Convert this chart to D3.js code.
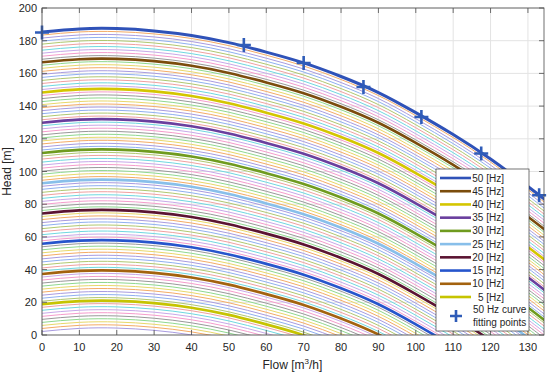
<!DOCTYPE html>
<html lang="en">
	<head>
		<meta charset="utf-8">
		<title>Pump head curves</title>
		<script type="text/javascript" src="https://cdn.jsdelivr.net/npm/d3@7"></script>
		<style>
			body { margin: 0; background: #fff; }
			text { font-family: "Liberation Sans", Arial, sans-serif; fill: #262626; }
		</style>
	</head>
	<body>
		<script type="text/javascript">

			//
			// Data
			//

			// 50 Hz curve, sampled along the flow axis
			var flowPts = [0, 10, 20, 30, 40, 50, 60, 70, 80, 90, 100, 110, 120, 130, 135];
			var head50 = [185.3, 187.2, 187.4, 186.0, 183.2, 178.8, 173.0, 166.4, 158.1, 148.3, 136.0, 122.6, 107.6, 90.8, 82];

			// fitting points on the 50 Hz curve
			var fitFlow = [0, 54, 70, 86, 101.5, 117.5, 133];
			var fitHead = [185, 177.4, 166.4, 151.7, 133.3, 111, 85.5];

			// every curve is the 50 Hz one shifted down by this much per Hz
			var headPerHz = 3.7;
			var freqs = d3.range(0.5, 50.01, 0.5);

			// highlighted curves (legend)
			var hiFreqs = [50, 45, 40, 35, 30, 25, 20, 15, 10, 5];
			var hiLabels = ["50 [Hz]", "45 [Hz]", "40 [Hz]", "35 [Hz]", "30 [Hz]", "25 [Hz]", "20 [Hz]", "15 [Hz]", "10 [Hz]", "5 [Hz]"];
			var hiColors = ["#2f52b8", "#7b4c0c", "#d4c600", "#6a3f9e", "#6f9b1f", "#88bfea", "#5b1432", "#2655cc", "#a3620f", "#c6c400"];

			// thin curve colours, cycled
			var thinColors = ["#a99be0", "#f4ab66", "#e8d86a", "#8fd88f", "#999999", "#f59ccc", "#c8a8e8", "#6fd8e0", "#f0a0a0", "#b0c870", "#8fb0f0"];

			var xTicks = d3.range(0, 131, 10);
			var yTicks = d3.range(0, 201, 20);

			//
			// Layout
			//
			var W = 550, H = 377;
			var mLeft = 42, mRight = 544, mTop = 8, mBottom = 335;

			var svg = d3.select("body")
				.append("svg")
				.attr("width", W)
				.attr("height", H);

			var x = d3.scaleLinear().domain([0, 134.3]).range([mLeft, mRight]);
			var y = d3.scaleLinear().domain([0, 200]).range([mBottom, mTop]);

			svg.append("defs").append("clipPath")
				.attr("id", "plot")
				.append("rect")
				.attr("x", mLeft).attr("y", mTop)
				.attr("width", mRight - mLeft).attr("height", mBottom - mTop);

			// grid
			var grid = svg.append("g");
			grid.selectAll("line.gx")
				.data(xTicks)
				.enter()
				.append("line")
				.attr("x1", function(d) { return x(d); })
				.attr("x2", function(d) { return x(d); })
				.attr("y1", mTop).attr("y2", mBottom)
				.attr("stroke", "#e3e3e3");
			grid.selectAll("line.gy")
				.data(yTicks)
				.enter()
				.append("line")
				.attr("y1", function(d) { return y(d); })
				.attr("y2", function(d) { return y(d); })
				.attr("x1", mLeft).attr("x2", mRight)
				.attr("stroke", "#e3e3e3");

			var line = d3.line()
				.x(function(d) { return x(d[0]); })
				.y(function(d) { return y(d[1]); })
				.curve(d3.curveNatural);

			var curveFor = function(f) {
				return flowPts.map(function(q, i) {
					return [q, head50[i] - (50 - f) * headPerHz];
				});
			};

			var plot = svg.append("g").attr("clip-path", "url(#plot)");

			var thin = freqs.filter(function(f) { return f % 5 !== 0; });
			plot.selectAll("path.thin")
				.data(thin)
				.enter()
				.append("path")
				.attr("d", function(f) { return line(curveFor(f)); })
				.attr("fill", "none")
				.attr("stroke", function(f, i) { return thinColors[i % thinColors.length]; })
				.attr("stroke-width", 1);

			plot.selectAll("path.hi")
				.data(hiFreqs.slice().reverse())
				.enter()
				.append("path")
				.attr("d", function(f) { return line(curveFor(f)); })
				.attr("fill", "none")
				.attr("stroke", function(f) { return hiColors[hiFreqs.indexOf(f)]; })
				.attr("stroke-width", function(f) { return f === 50 ? 3 : 2.6; });

			// fitting point markers
			svg.selectAll("path.fit")
				.data(fitFlow)
				.enter()
				.append("path")
				.attr("d", function(q, i) {
					var cx = x(q), cy = y(fitHead[i]);
					return "M" + (cx - 7) + "," + cy + "H" + (cx + 7) + "M" + cx + "," + (cy - 7) + "V" + (cy + 7);
				})
				.attr("stroke", "#2f5cb8")
				.attr("stroke-width", 2.6);

			// axes box with inward ticks on all sides
			var axes = svg.append("g").attr("stroke", "#4d4d4d").attr("stroke-width", 0.8);
			axes.append("rect")
				.attr("x", mLeft).attr("y", mTop)
				.attr("width", mRight - mLeft).attr("height", mBottom - mTop)
				.attr("fill", "none");
			xTicks.forEach(function(d) {
				axes.append("line").attr("x1", x(d)).attr("x2", x(d)).attr("y1", mBottom).attr("y2", mBottom - 5);
				axes.append("line").attr("x1", x(d)).attr("x2", x(d)).attr("y1", mTop).attr("y2", mTop + 5);
			});
			yTicks.forEach(function(d) {
				axes.append("line").attr("y1", y(d)).attr("y2", y(d)).attr("x1", mLeft).attr("x2", mLeft + 5);
				axes.append("line").attr("y1", y(d)).attr("y2", y(d)).attr("x1", mRight).attr("x2", mRight - 5);
			});

			svg.selectAll("text.xt")
				.data(xTicks)
				.enter()
				.append("text")
				.attr("x", function(d) { return x(d); })
				.attr("y", mBottom + 16)
				.attr("text-anchor", "middle")
				.attr("font-size", 11)
				.text(function(d) { return d; });

			svg.selectAll("text.yt")
				.data(yTicks)
				.enter()
				.append("text")
				.attr("x", mLeft - 5)
				.attr("y", function(d) { return y(d) + 4; })
				.attr("text-anchor", "end")
				.attr("font-size", 11)
				.text(function(d) { return d; });

			var xl = svg.append("text")
				.attr("x", x(67))
				.attr("y", 369)
				.attr("text-anchor", "middle")
				.attr("font-size", 12);
			xl.append("tspan").text("Flow [m");
			xl.append("tspan").attr("font-size", 8).attr("dy", -5).text("3");
			xl.append("tspan").attr("dy", 5).text("/h]");

			svg.append("text")
				.attr("transform", "translate(11," + y(100) + ") rotate(-90)")
				.attr("text-anchor", "middle")
				.attr("font-size", 12)
				.text("Head [m]");

			//
			// Legend
			//
			var lg = svg.append("g");
			lg.append("rect")
				.attr("x", 436).attr("y", 169)
				.attr("width", 93).attr("height", 162)
				.attr("fill", "#fff")
				.attr("stroke", "#3a3a3a")
				.attr("stroke-width", 0.7);

			var rowY = d3.scaleLinear().domain([0, 9]).range([178, 297]);
			hiLabels.forEach(function(lab, i) {
				lg.append("line")
					.attr("x1", 440).attr("x2", 471)
					.attr("y1", rowY(i)).attr("y2", rowY(i))
					.attr("stroke", hiColors[i])
					.attr("stroke-width", 2.6);
				lg.append("text")
					.attr("x", 504)
					.attr("y", rowY(i) + 3.5)
					.attr("text-anchor", "end")
					.attr("font-size", 10)
					.text(lab);
			});

			lg.append("path")
				.attr("d", "M450,316H462M456,310V322")
				.attr("stroke", "#2f5cb8")
				.attr("stroke-width", 2.6);
			lg.append("text").attr("x", 473).attr("y", 312.5).attr("font-size", 10).text("50 Hz curve");
			lg.append("text").attr("x", 473).attr("y", 325.5).attr("font-size", 10).text("fitting points");

		</script>
	</body>
</html>
